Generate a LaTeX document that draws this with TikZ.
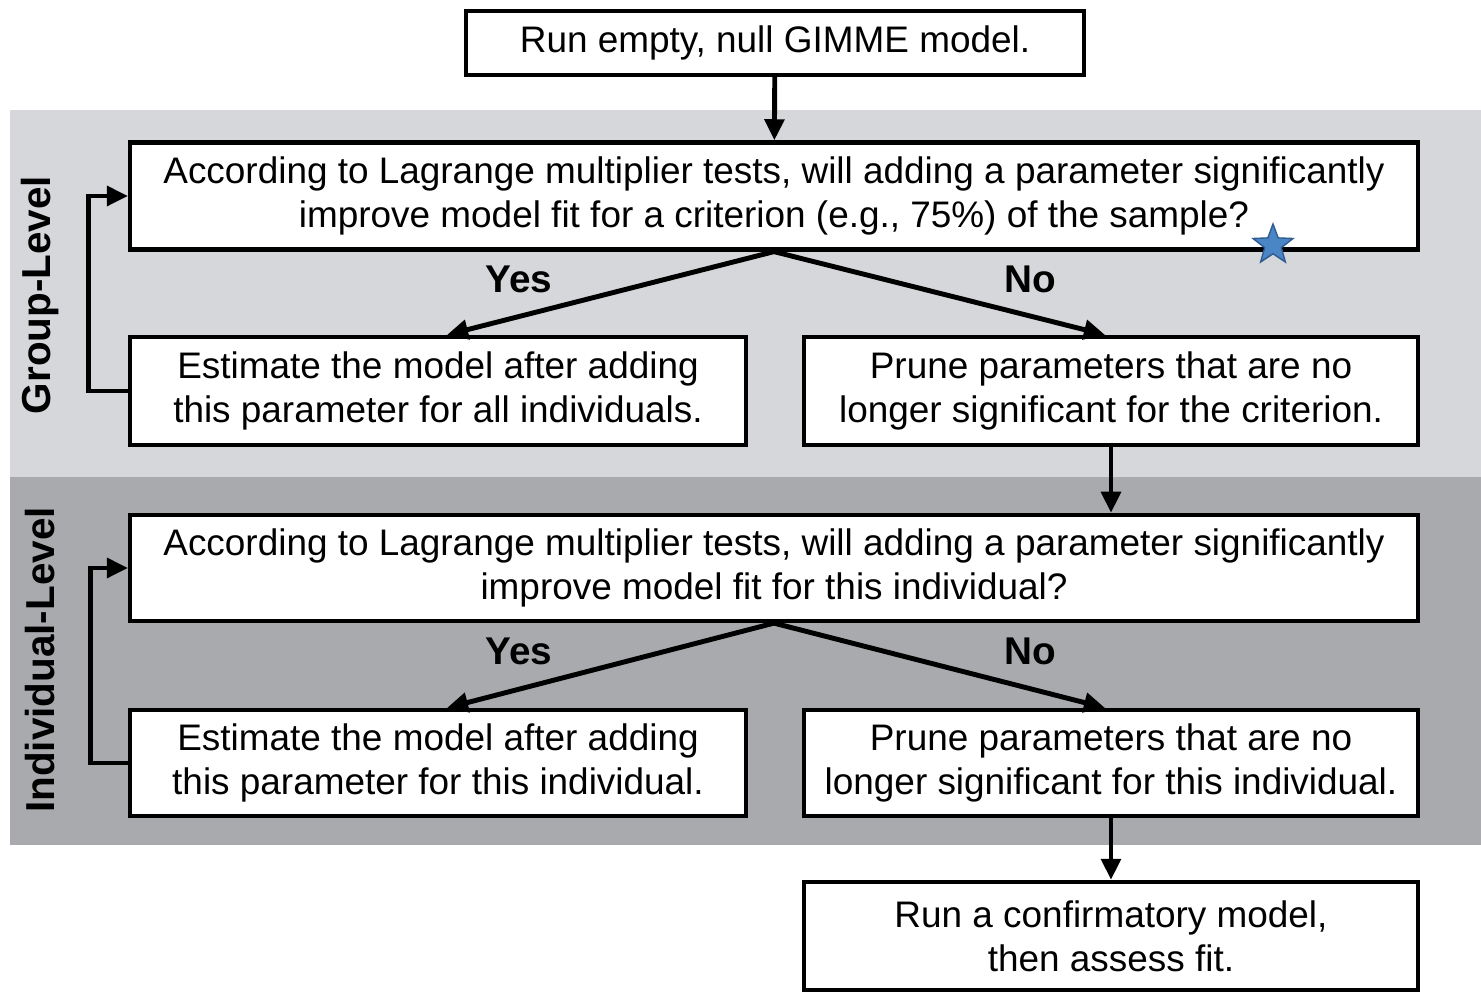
\documentclass[tikz,border=0pt]{standalone}
\usepackage{fontspec}
\setmainfont{Liberation Sans}
\usetikzlibrary{arrows.meta,shapes.geometric}
\definecolor{gruppe}{RGB}{213,215,218}
\definecolor{indiv}{RGB}{168,170,173}
\definecolor{stern}{RGB}{74,134,197}
\definecolor{sternrand}{RGB}{47,92,145}
\tikzset{
	kasten/.style={draw, line width=1.2pt, fill=white, align=center, inner sep=0pt,
		font=\fontsize{10.5}{12.5}\selectfont},
	pfeil/.style={line width=1.4pt, -{Triangle[length=6pt,width=5.5pt]}},
	antwort/.style={font=\bfseries\fontsize{11}{13}\selectfont},
	ebene/.style={rotate=90, font=\bfseries\fontsize{11.5}{13}\selectfont}
}
\begin{document}
\begin{tikzpicture}[x=0.01cm,y=-0.01cm]
\useasboundingbox (0,0) rectangle (1481,992);
% Hintergrund:
	\fill [gruppe] (10,110) rectangle (1481,477);
	\fill [indiv] (10,477) rectangle (1481,845);
	\node [ebene] (gl) at (40,295) {Group-Level};
	\node [ebene] (il) at (40,660) {Individual-Level};
% Kaesten:
	% Start
	\node [kasten, minimum width=6.17cm, minimum height=0.64cm] (start) at (775,43) {Run empty, null GIMME model.};
	% Gruppe
	\node [kasten, minimum width=12.87cm, minimum height=1.07cm] (frage1) at (774,196)
		{According to Lagrange multiplier tests, will adding a parameter significantly\\ improve model fit for a criterion (e.g., 75\%) of the sample?};
	\node [kasten, minimum width=6.15cm, minimum height=1.08cm] (ja1) at (438,391)
		{Estimate the model after adding\\ this parameter for all individuals.};
	\node [kasten, minimum width=6.13cm, minimum height=1.08cm] (nein1) at (1111,391)
		{Prune parameters that are no\\ longer significant for the criterion.};
	% Individuum
	\node [kasten, minimum width=12.87cm, minimum height=1.06cm] (frage2) at (774,568)
		{According to Lagrange multiplier tests, will adding a parameter significantly\\ improve model fit for this individual?};
	\node [kasten, minimum width=6.15cm, minimum height=1.06cm] (ja2) at (438,763)
		{Estimate the model after adding\\ this parameter for this individual.};
	\node [kasten, minimum width=6.13cm, minimum height=1.06cm] (nein2) at (1111,763)
		{Prune parameters that are no\\ longer significant for this individual.};
	% Ende
	\node [kasten, minimum width=6.13cm, minimum height=1.08cm] (ende) at (1111,936)
		{Run a confirmatory model,\\ then assess fit.};
	% Stern
	\node [star, star points=5, star point ratio=2.4, minimum size=0.42cm, inner sep=0pt,
		fill=stern, draw=sternrand, line width=0.4pt] (stern) at (1273,245) {};
% Pfeile:
	\draw [pfeil] (start) -- (frage1);
	\draw [pfeil] (frage1.south) -- ([xshift=0.09cm]ja1.north);
	\draw [pfeil] (frage1.south) -- ([xshift=-0.06cm]nein1.north);
	\draw [pfeil] (ja1.west) -- ++(-40,0) |- (frage1.west);
	\draw [pfeil] (nein1.south) -- (nein1.south |- frage2.north);
	\draw [pfeil] (frage2.south) -- ([xshift=0.09cm]ja2.north);
	\draw [pfeil] (frage2.south) -- ([xshift=-0.06cm]nein2.north);
	\draw [pfeil] (ja2.west) -- ++(-38,0) |- (frage2.west);
	\draw [pfeil] (nein2.south) -- (ende.north);
	% Beschriftung
	\node [antwort] (ja1txt) at (519,279) {Yes};
	\node [antwort] (nein1txt) at (1030,279) {No};
	\node [antwort] (ja2txt) at (519,651) {Yes};
	\node [antwort] (nein2txt) at (1030,651) {No};
\end{tikzpicture}
\end{document}
